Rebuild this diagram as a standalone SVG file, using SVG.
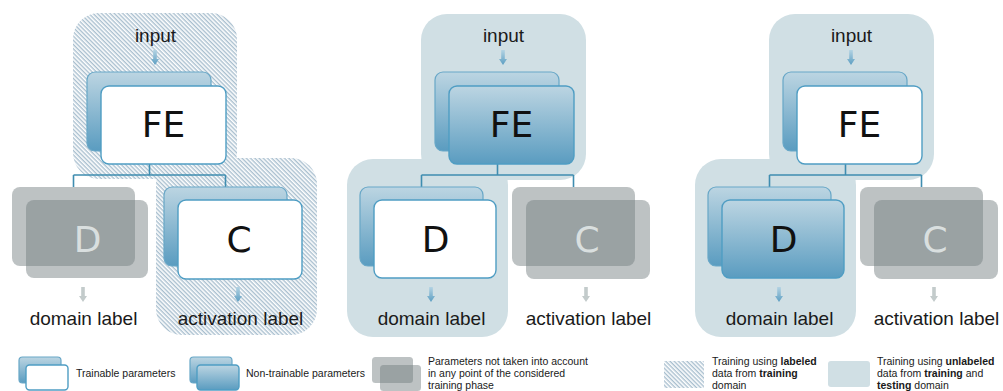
<svg xmlns="http://www.w3.org/2000/svg" xmlns:xlink="http://www.w3.org/1999/xlink" width="1003" height="391" viewBox="0 0 1003 391">
  <defs>
    <linearGradient id="blueGrad" x1="0" y1="0" x2="0" y2="1">
      <stop offset="0" stop-color="#bcd5e2"/>
      <stop offset="1" stop-color="#5a9cc0"/>
    </linearGradient>
    <linearGradient id="arrowBlue" x1="0" y1="0" x2="0" y2="1">
      <stop offset="0" stop-color="#b3d3e3"/>
      <stop offset="1" stop-color="#5c9ec2"/>
    </linearGradient>
    <pattern id="hatch" patternUnits="userSpaceOnUse" width="3" height="3" patternTransform="rotate(45)">
      <rect width="3" height="3" fill="#ffffff"/>
      <rect width="3" height="1.4" fill="#a9bfcf"/>
    </pattern>
    <path id="arrow" d="M-1.8,0 H1.8 V9 H4 L0,15 L-4,9 H-1.8 Z"/>
    <style>
      .back { fill: url(#blueGrad); stroke: #68a7c7; stroke-width: 1.2; }
      .front-w { fill: #ffffff; stroke: #4f9dc3; stroke-width: 1.4; }
      .front-g { fill: url(#blueGrad); stroke: #4f9dc3; stroke-width: 1.4; }
      .gray { fill: #737e80; fill-opacity: 0.47; }
      .zone-s { fill: #d0dfe4; }
      .zone-h { fill: url(#hatch); }
      .big { font-family: "DejaVu Sans", Verdana, sans-serif; font-size: 36px; text-anchor: middle; fill: #111111; }
      .big-off { fill: #d9dfdf; }
      .lbl { font-family: "Liberation Sans", Arial, sans-serif; font-size: 19px; text-anchor: middle; fill: #1a1a1a; }
      .leg { font-family: "Liberation Sans", Arial, sans-serif; font-size: 10.5px; fill: #1a1a1a; }
      .leg tspan.b { font-weight: bold; }
      .wire { fill: none; stroke: #3f8db0; stroke-width: 1.6; }
      .arr-on { fill: url(#arrowBlue); }
      .arr-off { fill: #c3cbcb; }
    </style>
  </defs>

  <!-- Panel 1: FE and C trained on labeled source data, D unused -->
  <g id="panel1">
    <rect class="zone-h" x="73" y="13" width="164" height="166" rx="26"/>
    <rect class="zone-h" x="156" y="158" width="161" height="177" rx="26"/>
    <g id="p1-connectors">
      <path class="wire" d="M149.5,164 V175 M73.5,175 H225.5 M73.5,175 V187 M225.5,175 V187"/>
    </g>
    <g id="p1-FE">
      <rect class="back" x="87" y="72" width="124" height="79" rx="8"/>
      <rect class="front-w" x="101" y="86" width="125" height="78" rx="8"/>
      <text class="big" x="163.5" y="137">FE</text>
    </g>
    <g id="p1-D">
      <rect class="gray" x="12" y="187" width="123" height="79" rx="8"/>
      <rect class="gray" x="26" y="200" width="122" height="78" rx="8"/>
      <text class="big big-off" x="87.5" y="252">D</text>
    </g>
    <g id="p1-C">
      <rect class="back" x="164" y="187" width="123" height="79" rx="8"/>
      <rect class="front-w" x="178" y="200" width="124" height="79" rx="8"/>
      <text class="big" x="239" y="252">C</text>
    </g>
    <text class="lbl" x="155.5" y="42">input</text>
    <use xlink:href="#arrow" class="arr-on" x="155" y="50"/>
    <use xlink:href="#arrow" class="arr-off" x="83" y="287"/>
    <text class="lbl" x="83.5" y="325">domain label</text>
    <use xlink:href="#arrow" class="arr-on" x="238" y="287"/>
    <text class="lbl" x="240.5" y="325">activation label</text>
  </g>

  <!-- Panel 2: D trained on unlabeled data, FE frozen, C unused -->
  <g id="panel2">
    <rect class="zone-s" x="421" y="14" width="165" height="166" rx="26"/>
    <rect class="zone-s" x="347" y="159" width="161" height="178" rx="26"/>
    <g id="p2-connectors">
      <path class="wire" d="M497.5,164 V175 M421.5,175 H573.5 M421.5,175 V187 M573.5,175 V187"/>
    </g>
    <g id="p2-FE">
      <rect class="back" x="435" y="72" width="124" height="79" rx="8"/>
      <rect class="front-g" x="449" y="86" width="125" height="78" rx="8"/>
      <text class="big" x="511.5" y="137">FE</text>
    </g>
    <g id="p2-D">
      <rect class="back" x="360" y="187" width="123" height="79" rx="8"/>
      <rect class="front-w" x="374" y="200" width="122" height="78" rx="8"/>
      <text class="big" x="435.5" y="252">D</text>
    </g>
    <g id="p2-C">
      <rect class="gray" x="512" y="187" width="123" height="79" rx="8"/>
      <rect class="gray" x="526" y="200" width="124" height="79" rx="8"/>
      <text class="big big-off" x="587" y="252">C</text>
    </g>
    <text class="lbl" x="503.5" y="42">input</text>
    <use xlink:href="#arrow" class="arr-on" x="503" y="50"/>
    <use xlink:href="#arrow" class="arr-on" x="431" y="287"/>
    <text class="lbl" x="431.5" y="325">domain label</text>
    <use xlink:href="#arrow" class="arr-off" x="586" y="287"/>
    <text class="lbl" x="588.5" y="325">activation label</text>
  </g>

  <!-- Panel 3: FE trained on unlabeled data, D frozen, C unused -->
  <g id="panel3">
    <rect class="zone-s" x="769" y="14" width="165" height="166" rx="26"/>
    <rect class="zone-s" x="695" y="159" width="161" height="178" rx="26"/>
    <g id="p3-connectors">
      <path class="wire" d="M845.5,164 V175 M769.5,175 H921.5 M769.5,175 V187 M921.5,175 V187"/>
    </g>
    <g id="p3-FE">
      <rect class="back" x="783" y="72" width="124" height="79" rx="8"/>
      <rect class="front-w" x="797" y="86" width="125" height="78" rx="8"/>
      <text class="big" x="859.5" y="137">FE</text>
    </g>
    <g id="p3-D">
      <rect class="back" x="708" y="187" width="123" height="79" rx="8"/>
      <rect class="front-g" x="722" y="200" width="122" height="78" rx="8"/>
      <text class="big" x="783.5" y="252">D</text>
    </g>
    <g id="p3-C">
      <rect class="gray" x="860" y="187" width="123" height="79" rx="8"/>
      <rect class="gray" x="874" y="200" width="124" height="79" rx="8"/>
      <text class="big big-off" x="935" y="252">C</text>
    </g>
    <text class="lbl" x="851.5" y="42">input</text>
    <use xlink:href="#arrow" class="arr-on" x="851" y="50"/>
    <use xlink:href="#arrow" class="arr-on" x="779" y="287"/>
    <text class="lbl" x="779.5" y="325">domain label</text>
    <use xlink:href="#arrow" class="arr-off" x="934" y="287"/>
    <text class="lbl" x="936.5" y="325">activation label</text>
  </g>

  <!-- Legend -->
  <g id="legend">
    <g id="leg-trainable">
      <rect class="back" x="19" y="357" width="42" height="26" rx="3.5"/>
      <rect class="front-w" x="26" y="365" width="42" height="25" rx="3.5"/>
      <text class="leg" x="76" y="377">Trainable parameters</text>
    </g>
    <g id="leg-frozen">
      <rect class="back" x="190" y="357" width="42" height="26" rx="3.5"/>
      <rect class="front-g" x="197" y="365" width="42" height="25" rx="3.5"/>
      <text class="leg" x="246" y="377">Non-trainable parameters</text>
    </g>
    <g id="leg-unused">
      <rect class="gray" x="372" y="357" width="41" height="26" rx="3.5"/>
      <rect class="gray" x="380" y="365" width="41" height="26" rx="3.5"/>
      <text class="leg" x="428" y="365">Parameters not taken into account</text>
      <text class="leg" x="428" y="377">in any point of the considered</text>
      <text class="leg" x="428" y="389">training phase</text>
    </g>
    <g id="leg-labeled">
      <rect class="zone-h" x="664" y="361" width="40" height="27"/>
      <text class="leg" x="712" y="365">Training using <tspan class="b">labeled</tspan></text>
      <text class="leg" x="712" y="377">data from <tspan class="b">training</tspan></text>
      <text class="leg" x="712" y="389">domain</text>
    </g>
    <g id="leg-unlabeled">
      <rect class="zone-s" x="828" y="361" width="42" height="26" rx="3"/>
      <text class="leg" x="877" y="365">Training using <tspan class="b">unlabeled</tspan></text>
      <text class="leg" x="877" y="377">data from <tspan class="b">training</tspan> and</text>
      <text class="leg" x="877" y="389"><tspan class="b">testing</tspan> domain</text>
    </g>
  </g>
</svg>
